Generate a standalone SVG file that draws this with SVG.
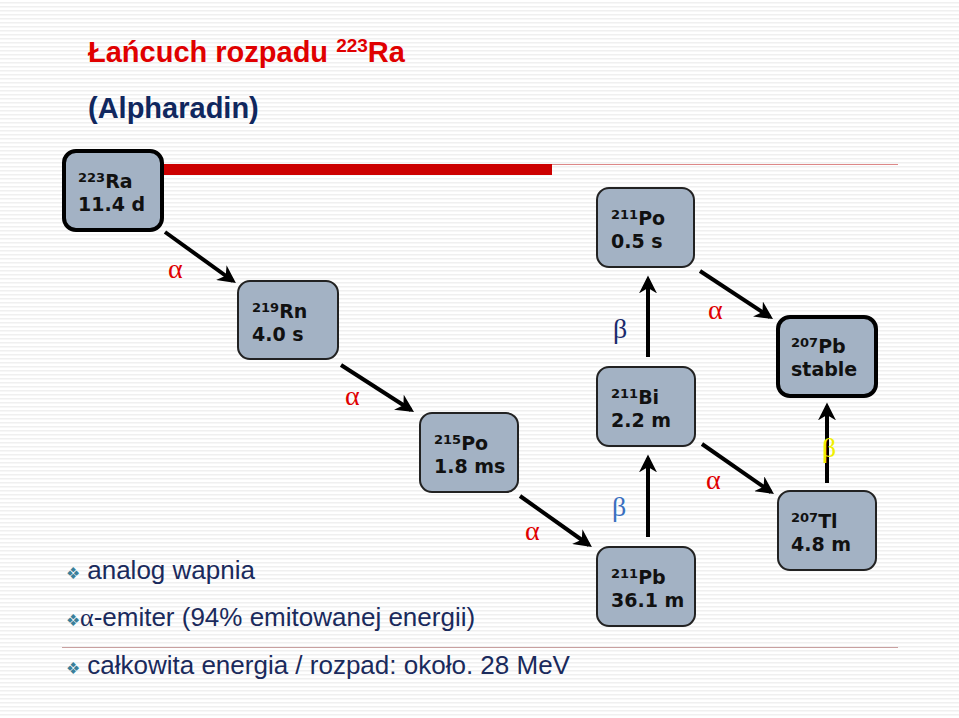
<svg xmlns="http://www.w3.org/2000/svg" width="959" height="718" viewBox="0 0 959 718">
<defs>
<pattern id="st" width="4" height="4" patternUnits="userSpaceOnUse"><rect width="4" height="4" fill="#fff"/><rect y="2" width="4" height="1.5" fill="#f0f0f0"/></pattern>
<marker id="ah" viewBox="0 0 10 10" refX="8" refY="5" markerWidth="4.5" markerHeight="4.5" orient="auto"><path d="M0,0 L10,5 L0,10 L3,5 Z" fill="#000"/></marker>
</defs>
<style>
.n rect{fill:#a3b2c4;stroke:#222;stroke-width:2}
.n.b rect{stroke:#000;stroke-width:4}
.n text{font-family:"DejaVu Sans",sans-serif;font-weight:bold;font-size:19px;fill:#111}
.c line{stroke:#000;stroke-width:4;marker-end:url(#ah)}
.g{font-family:"Liberation Serif",serif;font-size:28px}
.bl{font-family:"Liberation Sans",sans-serif;font-size:26px;fill:#1a2a5c}
.bu{font-size:16px;fill:#3a7f9a}
</style>
<rect width="959" height="718" fill="url(#st)"/>
<text x="88" y="62" font-size="29" font-weight="bold" font-family="Liberation Sans,sans-serif" fill="#e00000">Łańcuch rozpadu <tspan font-size="19" dy="-10">223</tspan><tspan dy="10">Ra</tspan></text>
<text x="88" y="118" font-size="29" font-weight="bold" font-family="Liberation Sans,sans-serif" fill="#10275e">(Alpharadin)</text>
<rect x="160" y="164" width="392" height="11" fill="#cc0000"/>
<line x1="552" y1="164.5" x2="898" y2="164.5" stroke="#d88" stroke-width="1.2"/>
<line x1="62" y1="647.5" x2="898" y2="647.5" stroke="#c9a0a0" stroke-width="1"/>
<g id="ra" class="n b"><rect x="64" y="151" width="98" height="79" rx="12"/><text x="78" y="188"><tspan font-size="13" dy="-6">223</tspan><tspan dy="6">Ra</tspan></text><text x="78" y="211">11.4 d</text></g>
<g id="rn" class="n"><rect x="238" y="281" width="100" height="78" rx="12"/><text x="252" y="318"><tspan font-size="13" dy="-6">219</tspan><tspan dy="6">Rn</tspan></text><text x="252" y="341">4.0 s</text></g>
<g id="po215" class="n"><rect x="420" y="413" width="98" height="79" rx="12"/><text x="434" y="450"><tspan font-size="13" dy="-6">215</tspan><tspan dy="6">Po</tspan></text><text x="434" y="473">1.8 ms</text></g>
<g id="po211" class="n"><rect x="597" y="188" width="97" height="79" rx="12"/><text x="611" y="225"><tspan font-size="13" dy="-6">211</tspan><tspan dy="6">Po</tspan></text><text x="611" y="248">0.5 s</text></g>
<g id="bi" class="n"><rect x="597" y="367" width="98" height="79" rx="12"/><text x="611" y="404"><tspan font-size="13" dy="-6">211</tspan><tspan dy="6">Bi</tspan></text><text x="611" y="427">2.2 m</text></g>
<g id="pb211" class="n"><rect x="597" y="547" width="98" height="79" rx="12"/><text x="611" y="584"><tspan font-size="13" dy="-6">211</tspan><tspan dy="6">Pb</tspan></text><text x="611" y="607">36.1 m</text></g>
<g id="pb207" class="n b"><rect x="778" y="317" width="98" height="79" rx="12"/><text x="791" y="353"><tspan font-size="13" dy="-6">207</tspan><tspan dy="6">Pb</tspan></text><text x="791" y="376">stable</text></g>
<g id="tl" class="n"><rect x="778" y="491" width="98" height="79" rx="12"/><text x="791" y="528"><tspan font-size="13" dy="-6">207</tspan><tspan dy="6">Tl</tspan></text><text x="791" y="551">4.8 m</text></g>
<g id="connectors" class="c">
<line x1="165" y1="232" x2="233" y2="281"/>
<line x1="341" y1="365" x2="411" y2="410"/>
<line x1="520" y1="496" x2="589" y2="545"/>
<line x1="648" y1="537" x2="648" y2="458"/>
<line x1="648" y1="357" x2="648" y2="279"/>
<line x1="700" y1="271" x2="770" y2="317"/>
<line x1="702" y1="444" x2="771" y2="492"/>
<line x1="827" y1="483" x2="827" y2="406"/>
</g>
<g class="g">
<text x="168" y="278" fill="#e00000">α</text>
<text x="345" y="405" fill="#e00000">α</text>
<text x="525" y="540" fill="#e00000">α</text>
<text x="612" y="516" fill="#3a6fc0">β</text>
<text x="613" y="338" fill="#1a2a6c">β</text>
<text x="708" y="319" fill="#e00000">α</text>
<text x="706" y="489" fill="#e00000">α</text>
<text x="822" y="457" fill="#f0f000">β</text>
</g>
<text class="bl" x="66" y="579"><tspan class="bu">❖</tspan> analog wapnia</text>
<text class="bl" x="66" y="626"><tspan class="bu">❖</tspan><tspan font-family="Liberation Serif">α</tspan>-emiter (94% emitowanej energii)</text>
<text class="bl" x="66" y="674"><tspan class="bu">❖</tspan> całkowita energia / rozpad: około. 28 MeV</text>
</svg>
